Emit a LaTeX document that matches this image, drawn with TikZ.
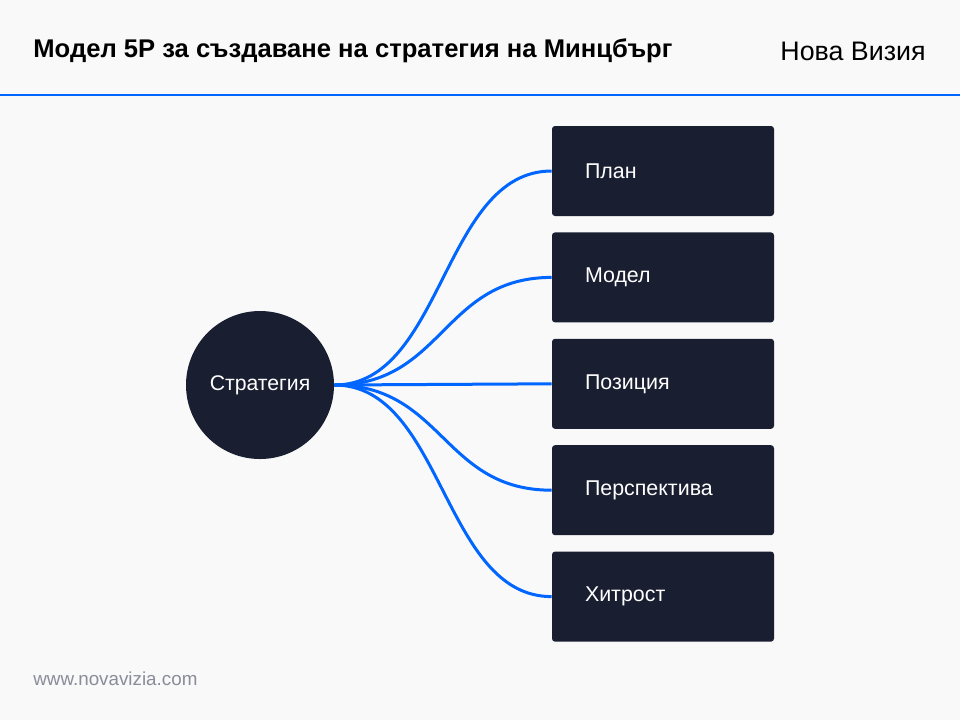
\documentclass[tikz,border=0pt]{standalone}
\usepackage{fontspec}
\setmainfont{Liberation Sans}
\usetikzlibrary{positioning}
\definecolor{navy}{HTML}{1A1E31}
\definecolor{lineblue}{HTML}{0066FF}
\definecolor{bggray}{HTML}{F9F9F9}
\definecolor{urlgray}{HTML}{8A8C9A}
\tikzset{stepbox/.style={rectangle, fill=navy, text=white, rounded corners=1.5pt,
    minimum height=45pt, text width=78pt, inner xsep=16.5pt, align=left,
    font=\fontsize{10.7}{12}\selectfont}}
\tikzset{link/.style={lineblue, line width=1.5pt}}

\begin{document}
\begin{tikzpicture}[x=0.5pt,y=-0.5pt]
\fill[bggray] (0,0) rectangle (960,720);
\useasboundingbox (0,0) rectangle (960,720);
\draw[lineblue, line width=1pt] (0,95)--(960,95);
\node[anchor=west, inner sep=0, font=\bfseries\fontsize{12.8}{15}\selectfont] (title) at (33,51) {Модел 5P за създаване на стратегия на Минцбърг};
\node[anchor=east, inner sep=0, font=\fontsize{13.4}{15}\selectfont] (brand) at (926,51) {Нова Визия};
\node[circle, fill=navy, minimum size=74pt, inner sep=0, text=white, font=\fontsize{10.6}{12}\selectfont] (strat) at (260,385) {Стратегия};
\foreach \name [count=\i] in {План,Модел,Позиция,Перспектива,Хитрост} {
  \node[stepbox] (box\i) at (663,{171+106.4*(\i-1)}) {\name};
  \draw[link] (strat.east) .. controls +(109,0) and +(-109,0) .. (box\i.west);
}
\node[anchor=west, inner sep=0, text=urlgray, font=\fontsize{9.4}{11}\selectfont] (url) at (33,679) {www.novavizia.com};
\end{tikzpicture}
\end{document}
